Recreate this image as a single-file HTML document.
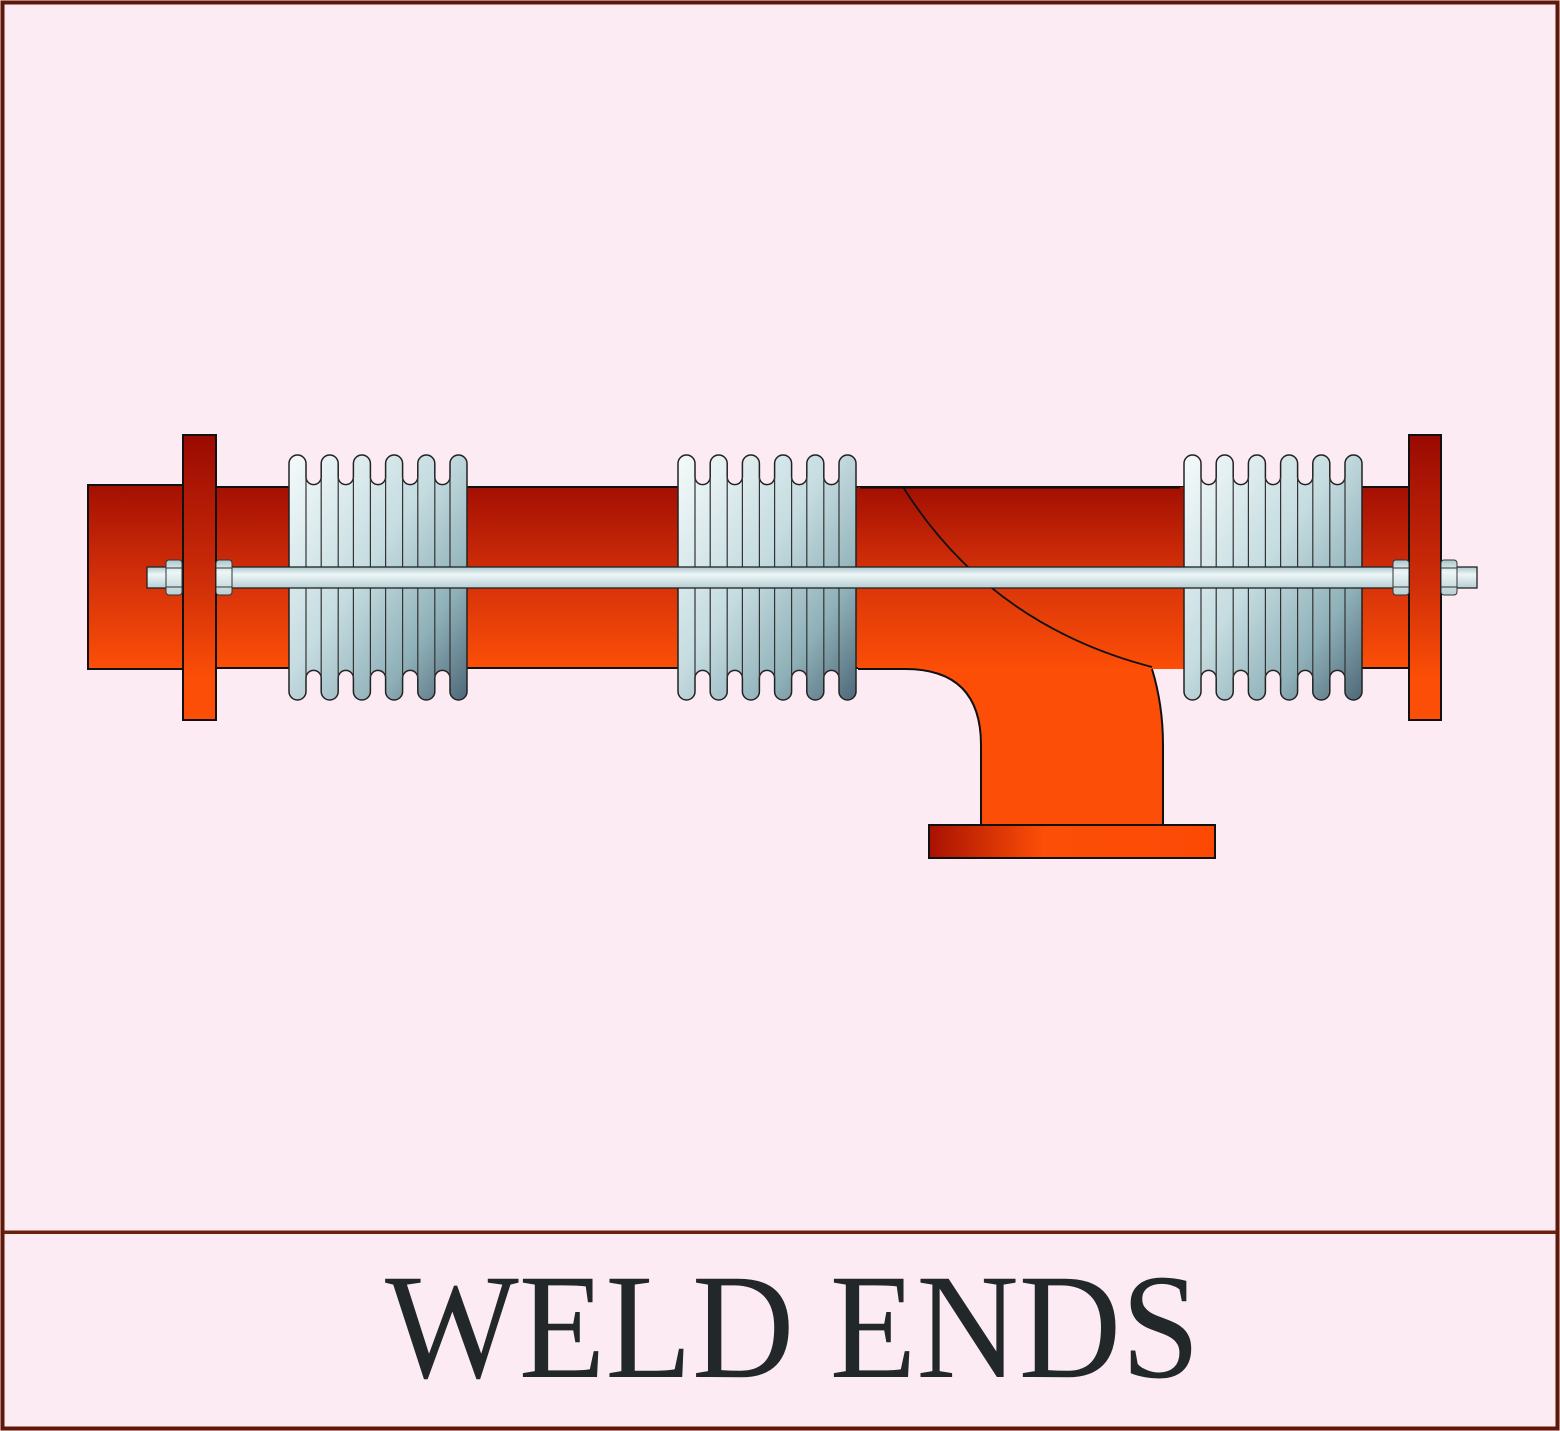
<!DOCTYPE html>
<html><head><meta charset="utf-8"><style>html,body{margin:0;padding:0;background:#fdebf3}svg{display:block}</style></head><body>
<svg width="1560" height="1431" viewBox="0 0 1560 1431" xmlns="http://www.w3.org/2000/svg">
<defs>
<linearGradient id="pv" x1="0" y1="0" x2="0" y2="1"><stop offset="0" stop-color="#a30f02"/><stop offset="0.5" stop-color="#d3300a"/><stop offset="1" stop-color="#fc4f08"/></linearGradient>
<linearGradient id="fv" x1="0" y1="0" x2="0" y2="1"><stop offset="0" stop-color="#9a0a02"/><stop offset="0.5" stop-color="#cc2c08"/><stop offset="0.85" stop-color="#fc4e07"/><stop offset="1" stop-color="#fc4e07"/></linearGradient>
<linearGradient id="bf" x1="0" y1="0" x2="1" y2="0"><stop offset="0" stop-color="#a81202"/><stop offset="0.4" stop-color="#fc4e07"/><stop offset="1" stop-color="#fc4a05"/></linearGradient>
<linearGradient id="tee" x1="0" y1="487" x2="0" y2="669" gradientUnits="userSpaceOnUse"><stop offset="0" stop-color="#a30f02"/><stop offset="0.5" stop-color="#d8340a"/><stop offset="1" stop-color="#fc4e07"/></linearGradient>
<linearGradient id="sil" x1="0" y1="0" x2="1" y2="1"><stop offset="0" stop-color="#f4fafb"/><stop offset="0.45" stop-color="#c5dce0"/><stop offset="0.75" stop-color="#8fb0b8"/><stop offset="1" stop-color="#4e6878"/></linearGradient>
<linearGradient id="rod" x1="0" y1="0" x2="0" y2="1"><stop offset="0" stop-color="#a9c6cc"/><stop offset="0.35" stop-color="#eef6f7"/><stop offset="1" stop-color="#b7cfd4"/></linearGradient>
<g id="bel">
<path d="M0,32 L0,8.5 A8.5,8.5 0 0 1 17,8.5 L17,22 A7.6,7.6 0 0 0 32.2,22 L32.2,8.5 A8.5,8.5 0 0 1 49.2,8.5 L49.2,22 A7.6,7.6 0 0 0 64.4,22 L64.4,8.5 A8.5,8.5 0 0 1 81.4,8.5 L81.4,22 A7.6,7.6 0 0 0 96.6,22 L96.6,8.5 A8.5,8.5 0 0 1 113.6,8.5 L113.6,22 A7.6,7.6 0 0 0 128.8,22 L128.8,8.5 A8.5,8.5 0 0 1 145.8,8.5 L145.8,22 A7.6,7.6 0 0 0 161,22 L161,8.5 A8.5,8.5 0 0 1 178,8.5 L178,236.5 A8.5,8.5 0 0 1 161,236.5 L161,223 A7.6,7.6 0 0 0 145.8,223 L145.8,236.5 A8.5,8.5 0 0 1 128.8,236.5 L128.8,223 A7.6,7.6 0 0 0 113.6,223 L113.6,236.5 A8.5,8.5 0 0 1 96.6,236.5 L96.6,223 A7.6,7.6 0 0 0 81.4,223 L81.4,236.5 A8.5,8.5 0 0 1 64.4,236.5 L64.4,223 A7.6,7.6 0 0 0 49.2,223 L49.2,236.5 A8.5,8.5 0 0 1 32.2,236.5 L32.2,223 A7.6,7.6 0 0 0 17,223 L17,236.5 A8.5,8.5 0 0 1 0,236.5 Z" fill="url(#sil)" stroke="#222" stroke-width="1.5"/>
<path d="M17,22V223M32.2,22V223M49.2,22V223M64.4,22V223M81.4,22V223M96.6,22V223M113.6,22V223M128.8,22V223M145.8,22V223M161,22V223" stroke="#333" stroke-width="1.2" fill="none"/>
</g>
<g id="nut"><rect x="0" y="0" width="16" height="35" rx="3" fill="url(#rod)" stroke="#333" stroke-width="1"/><path d="M0,8H16M0,27H16" stroke="#333" stroke-width="1"/></g>
</defs>
<rect x="0" y="0" width="1560" height="1431" fill="#fdebf3"/>
<!-- pipe -->
<rect x="88" y="485" width="96" height="184" fill="url(#pv)" stroke="#111" stroke-width="2"/>
<rect x="215" y="487" width="1195" height="181" fill="url(#pv)" stroke="#111" stroke-width="2"/>
<!-- tee branch -->
<path d="M858,487 L1184,487 L1184,669 L1152,669 Q1163,705 1163,745 L1163,826 L981,826 L981,745 Q981,669 905,669 L858,669 Z" fill="url(#tee)" stroke="none"/>
<path d="M1152,669 Q1163,705 1163,745 L1163,826 M981,826 L981,745 Q981,669 905,669 L858,669" fill="none" stroke="#111" stroke-width="2"/>
<path d="M903,487 Q990,625 1152,667" fill="none" stroke="#111" stroke-width="1.8"/>
<rect x="860" y="487" width="320" height="1.6" fill="#111"/>
<!-- bottom flange -->
<rect x="929" y="825" width="286" height="33" fill="url(#bf)" stroke="#111" stroke-width="2"/>
<!-- bellows -->
<use href="#bel" x="289" y="455"/>
<use href="#bel" x="678" y="455"/>
<use href="#bel" x="1184" y="455"/>
<!-- rod -->
<rect x="147" y="567" width="1330" height="21" fill="url(#rod)" stroke="#222" stroke-width="1.3"/>
<!-- flanges (over rod) -->
<rect x="183" y="435" width="33" height="285" fill="url(#fv)" stroke="#111" stroke-width="2"/>
<rect x="1409" y="435" width="32" height="285" fill="url(#fv)" stroke="#111" stroke-width="2"/>
<use href="#nut" x="166" y="560"/>
<use href="#nut" x="216" y="560"/>
<use href="#nut" x="1393" y="560"/>
<use href="#nut" x="1441" y="560"/>
<!-- frame -->
<rect x="2.5" y="2.5" width="1555" height="1426" fill="none" stroke="#5e1708" stroke-width="4"/>
<rect x="3" y="1230.5" width="1554" height="3.5" fill="#6a200d"/>
<text x="385" y="1377" font-family="'Liberation Serif', serif" font-size="150" fill="#222829" textLength="815" lengthAdjust="spacingAndGlyphs">WELD ENDS</text>
</svg>
</body></html>
